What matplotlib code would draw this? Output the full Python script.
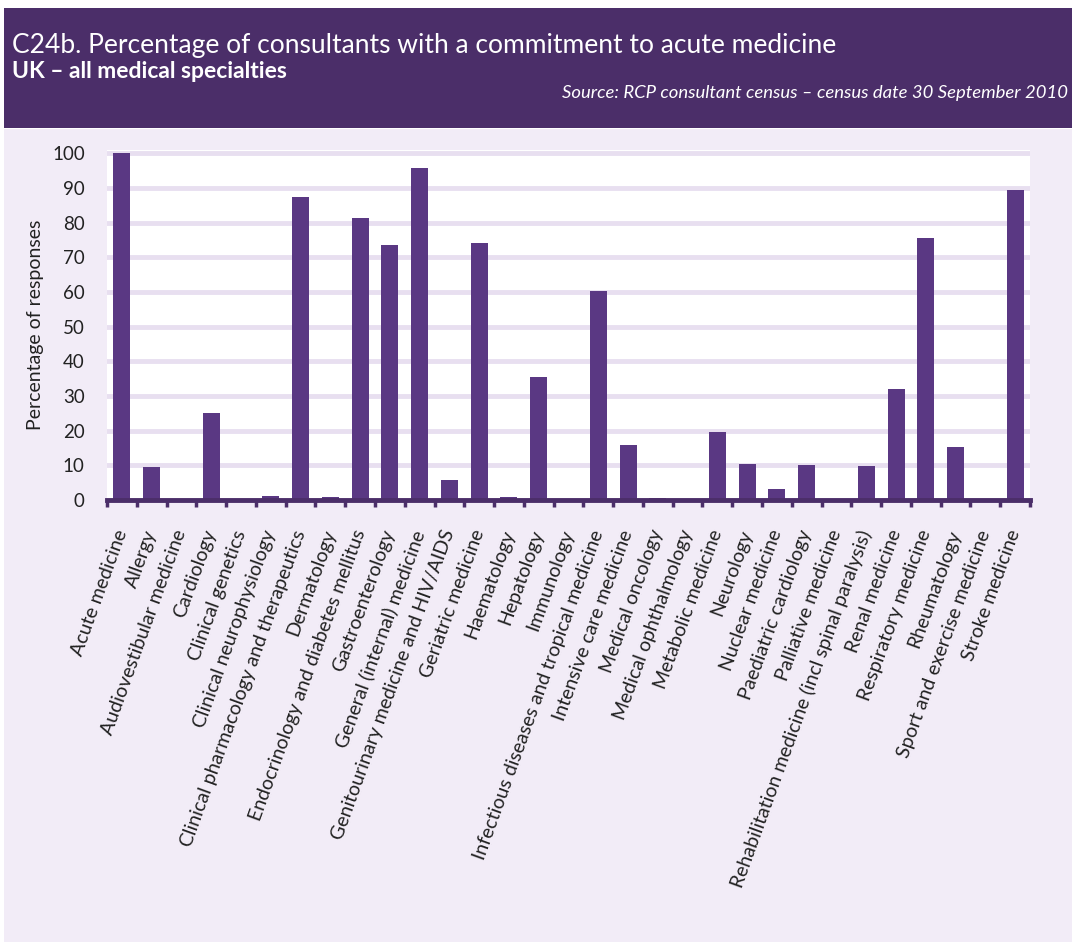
import matplotlib
matplotlib.use("Agg")
import matplotlib.pyplot as plt
from matplotlib.patches import Rectangle

plt.rcParams['font.family'] = ['Lato', 'DejaVu Sans']

specialties = [
    'Acute medicine', 'Allergy', 'Audiovestibular medicine', 'Cardiology',
    'Clinical genetics', 'Clinical neurophysiology',
    'Clinical pharmacology and therapeutics', 'Dermatology',
    'Endocrinology and diabetes mellitus', 'Gastroenterology',
    'General (internal) medicine', 'Genitourinary medicine and HIV/AIDS',
    'Geriatric medicine', 'Haematology', 'Hepatology', 'Immunology',
    'Infectious diseases and tropical medicine', 'Intensive care medicine',
    'Medical oncology', 'Medical ophthalmology', 'Metabolic medicine',
    'Neurology', 'Nuclear medicine', 'Paediatric cardiology',
    'Palliative medicine', 'Rehabilitation medicine (incl spinal paralysis)',
    'Renal medicine', 'Respiratory medicine', 'Rheumatology',
    'Sport and exercise medicine', 'Stroke medicine',
]
percent = [
    100, 9.5, 0, 25, 0, 1.2, 87.5, 0.9, 81.4, 73.5, 95.8, 5.8, 74.1, 0.8,
    35.4, 0, 60.4, 16.0, 0.7, 0, 19.5, 10.4, 3.3, 10.0, 0, 9.9, 32.0, 75.5,
    15.2, 0, 89.6,
]
yticks = list(range(0, 101, 10))

W, H = 1072, 942
fig = plt.figure(figsize=(W / 100, H / 100), dpi=100)
fig.patch.set_facecolor('white')

# background panel + header band (behind the axes)
fig.patches.append(Rectangle((4 / W, 0), 1, 1 - 129 / H, transform=fig.transFigure,
                             facecolor='#f2ecf7', edgecolor='none', zorder=-2))
fig.patches.append(Rectangle((4 / W, 1 - 128 / H), 1, 120 / H, transform=fig.transFigure,
                             facecolor='#4b2e69', edgecolor='none', zorder=-2))

fig.text(12 / W, 1 - 45 / H, 'C24b. Percentage of consultants with a commitment to acute medicine',
         color='white', fontsize=19, va='center', ha='left')
fig.text(12 / W, 1 - 71 / H, 'UK \u2013 all medical specialties',
         color='white', fontsize=16.5, fontweight='bold', va='center', ha='left')
fig.text(1068 / W, 1 - 93 / H, 'Source: RCP consultant census \u2013 census date 30 September 2010',
         color='white', fontsize=13.3, style='italic', va='center', ha='right')

ax = fig.add_axes([107 / W, 1 - 500 / H, 923 / W, 350 / H])
ax.set_facecolor('white')
x = list(range(len(specialties)))
ax.bar(x, percent, width=0.57, color='#5a3883', zorder=3)

ax.set_xlim(-0.5, len(specialties) - 0.5)
ax.set_ylim(0, 101)
ax.set_yticks(yticks)
ax.set_yticklabels([str(t) for t in yticks], fontsize=13.5, color='#222222')
ax.yaxis.grid(True, color='#e8dff0', linewidth=3.5, zorder=0)
ax.tick_params(axis='y', length=0, pad=16)

ax.set_xticks(x)
ax.set_xticklabels(specialties, rotation=70, ha='right', va='center',
                   rotation_mode='anchor', fontsize=14, color='#222222')
ax.set_xticks([i - 0.5 for i in range(len(specialties) + 1)], minor=True)
ax.tick_params(axis='x', which='major', length=0, pad=22)
ax.tick_params(axis='x', which='minor', length=5, width=2.5, color='#4b2e69', direction='out')

for side in ['top', 'right', 'left']:
    ax.spines[side].set_visible(False)
ax.spines['bottom'].set_color('#4b2e69')
ax.spines['bottom'].set_linewidth(3.5)
ax.spines['bottom'].set_zorder(4)

ax.set_ylabel('Percentage of responses', fontsize=14, color='#222222', labelpad=6)

fig.savefig('out.png', dpi=100, facecolor=fig.get_facecolor())
